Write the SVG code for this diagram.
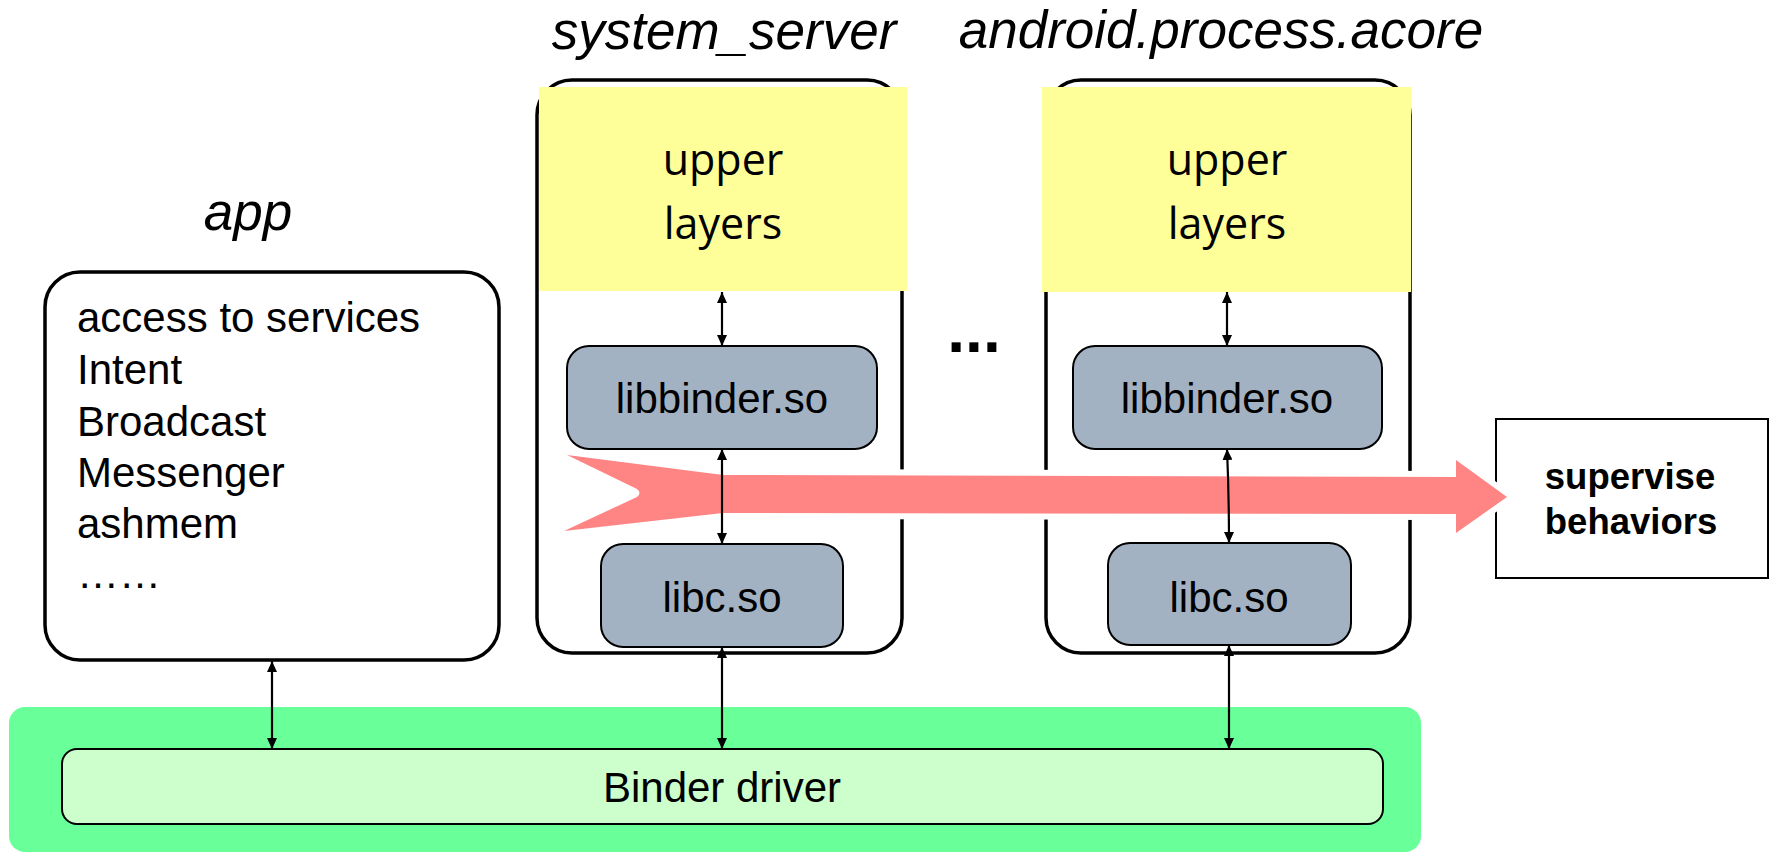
<svg xmlns="http://www.w3.org/2000/svg" width="1772" height="852" viewBox="0 0 1772 852">
  <defs>
    <style>
      .title{font-family:"Liberation Sans",Arial,sans-serif;font-style:italic;font-size:53px;fill:#000;text-anchor:middle}
      .proc{fill:#fff;stroke:#000;stroke-width:3.5}
      .upper{fill:#FFFF99}
      .ul{font-family:"Open Sans","Noto Sans",sans-serif;font-size:43px;fill:#000;text-anchor:middle}
      .lib{fill:#A3B2C2;stroke:#000;stroke-width:2}
      .lt{font-family:"Liberation Sans",Arial,sans-serif;font-size:42px;fill:#000;text-anchor:middle}
      .app{font-family:"Liberation Sans",Arial,sans-serif;font-size:42px;fill:#000}
      .sup{font-family:"Liberation Sans",Arial,sans-serif;font-size:36.5px;font-weight:bold;fill:#000;text-anchor:middle}
      .conn{stroke:#000;stroke-width:2.2;fill:none;marker-start:url(#tip);marker-end:url(#tip)}
    </style>
    <marker id="tip" viewBox="0 0 11 10" refX="11" refY="5" markerWidth="11" markerHeight="10" markerUnits="userSpaceOnUse" orient="auto-start-reverse">
      <path d="M0,0 L11,5 L0,10 z" fill="#000"/>
    </marker>
  </defs>

  <!-- kernel layer -->
  <g id="kernel">
    <rect x="9" y="707" width="1412" height="145" rx="16" fill="#69FF99"/>
  </g>
  <g id="binder-driver">
    <rect x="62" y="749" width="1321" height="75" rx="15" fill="#CCFFCC" stroke="#000" stroke-width="2"/>
    <text class="lt" x="722" y="802">Binder driver</text>
  </g>

  <!-- app process -->
  <g id="app">
    <text class="title" x="248" y="230">app</text>
    <rect class="proc" x="45" y="272" width="454" height="388" rx="35"/>
    <text class="app" x="77" y="332">access to services</text>
    <text class="app" x="77" y="384">Intent</text>
    <text class="app" x="77" y="436">Broadcast</text>
    <text class="app" x="77" y="487">Messenger</text>
    <text class="app" x="77" y="538">ashmem</text>
    <text class="app" x="77" y="588">……</text>
  </g>

  <!-- system_server process -->
  <g id="system-server">
    <text class="title" x="724" y="49">system_server</text>
    <rect class="proc" x="537" y="80" width="365" height="573" rx="35"/>
  </g>
  <g id="ss-upper">
    <rect class="upper" x="539" y="87" width="368" height="204"/>
    <text class="ul" x="723" y="175">upper</text>
    <text class="ul" x="723" y="239">layers</text>
  </g>
  <g id="ss-libbinder">
    <rect class="lib" x="567" y="346" width="310" height="103" rx="22"/>
    <text class="lt" x="722" y="413">libbinder.so</text>
  </g>
  <g id="ss-libc">
    <rect class="lib" x="601" y="544" width="242" height="103" rx="22"/>
    <text class="lt" x="722" y="612">libc.so</text>
  </g>

  <g id="more">
    <text x="974" y="352" font-family="Liberation Sans, Arial, sans-serif" font-size="64" font-weight="bold" text-anchor="middle">...</text>
  </g>

  <!-- android.process.acore process -->
  <g id="acore">
    <text class="title" x="1221" y="48">android.process.acore</text>
    <rect class="proc" x="1046" y="80" width="364" height="573" rx="35"/>
  </g>
  <g id="acore-upper">
    <rect class="upper" x="1042" y="87" width="369" height="205"/>
    <text class="ul" x="1227" y="175">upper</text>
    <text class="ul" x="1227" y="239">layers</text>
  </g>
  <g id="acore-libbinder">
    <rect class="lib" x="1073" y="346" width="309" height="103" rx="22"/>
    <text class="lt" x="1227" y="413">libbinder.so</text>
  </g>
  <g id="acore-libc">
    <rect class="lib" x="1108" y="543" width="243" height="102" rx="22"/>
    <text class="lt" x="1229" y="612">libc.so</text>
  </g>

  <!-- supervision target -->
  <g id="supervise">
    <rect x="1496" y="419" width="272" height="159" fill="#fff" stroke="#000" stroke-width="2"/>
    <text class="sup" x="1630" y="489">supervise</text>
    <text class="sup" x="1631" y="534">behaviors</text>
  </g>

  <!-- wide flow arrow, white halo cuts the lines it crosses -->
  <g id="flow">
    <path d="M567,455 L723,475 L1456,477 L1456,460 L1507,497 L1456,533 L1456,514 L723,513 L564,531 L637,497 Q642,493 637,489 Z"
          fill="#FF8585" stroke="#fff" stroke-width="12" stroke-linejoin="round" paint-order="stroke"/>
  </g>

  <!-- connectors -->
  <g id="connectors">
    <path class="conn" d="M272,661 L272,749"/>
    <path class="conn" d="M722,292 L722,346"/>
    <path class="conn" d="M722,449 L722,544"/>
    <path class="conn" d="M722,647 L722,749"/>
    <path class="conn" d="M1227,292 L1227,346"/>
    <path class="conn" d="M1227,449 Q1229,495 1229,543"/>
    <path class="conn" d="M1229,645 L1229,749"/>
  </g>
</svg>
